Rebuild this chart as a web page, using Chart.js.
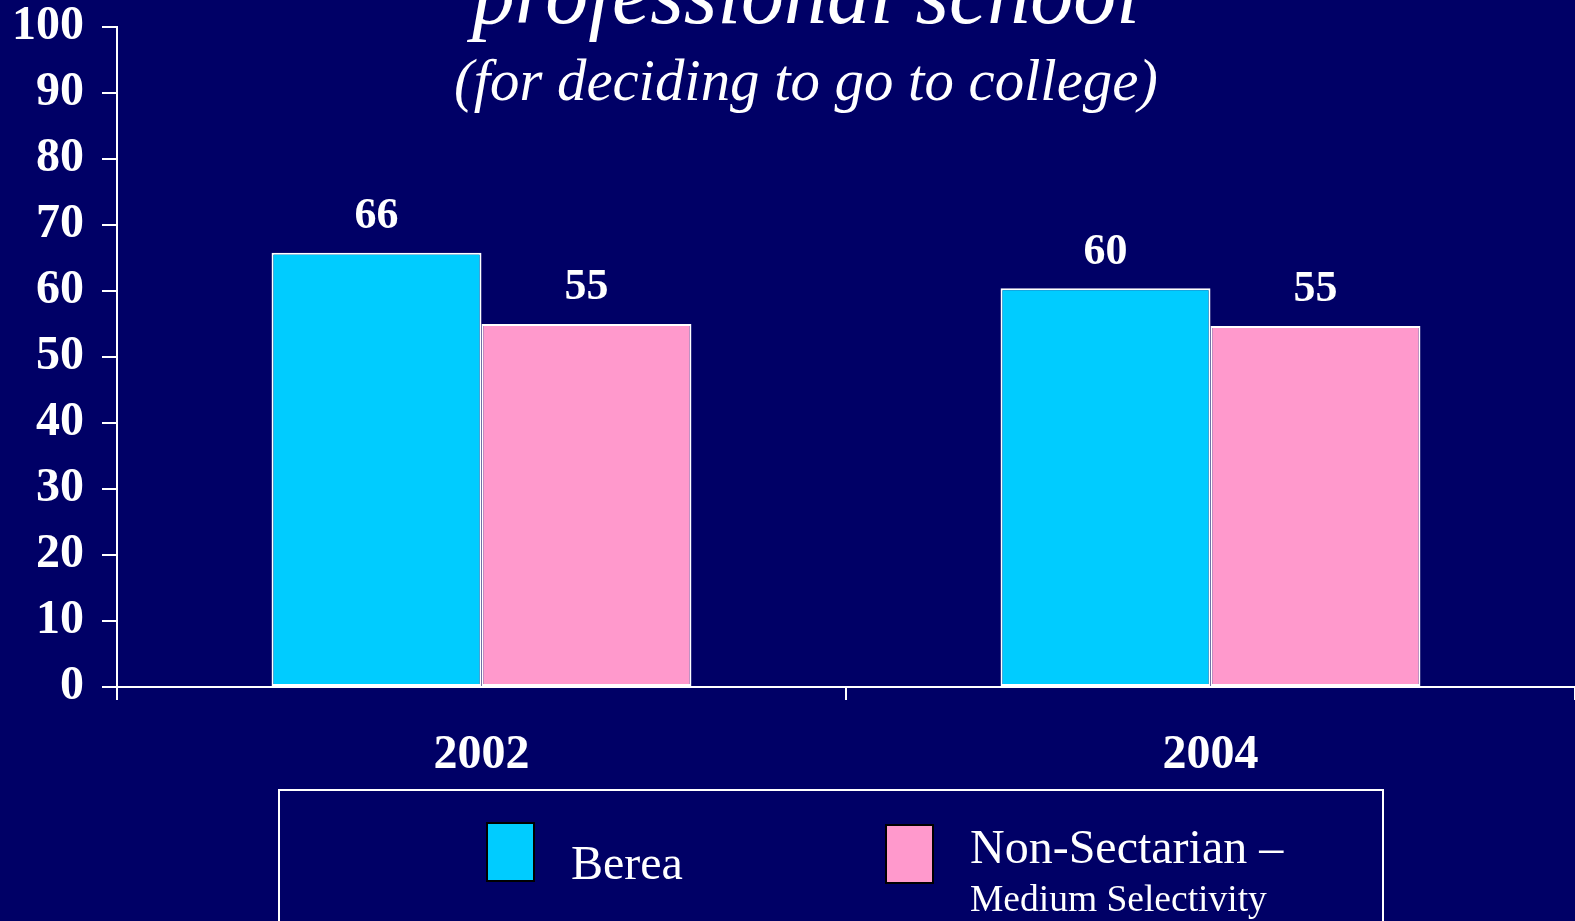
<!DOCTYPE html>
<html>
<head>
<meta charset="utf-8">
<script src="https://cdn.jsdelivr.net/npm/chart.js@4.4.1/dist/chart.umd.min.js"></script>
<style>
  html, body { margin: 0; padding: 0; background: #000066; overflow: hidden; }
  #wrap { position: relative; width: 1575px; height: 921px; }
</style>
</head>
<body>
<div id="wrap"><canvas id="c"></canvas></div>
<script>
// ---- data ----
const categories = ['2002', '2004'];
const bereaValues = [65.8, 60.4];
const nonSectarianValues = [55, 54.7];
const seriesNames = ['Berea', 'Non-Sectarian – Medium Selectivity'];
const legendLines = [['Berea'], ['Non-Sectarian –', 'Medium Selectivity']];
const yTickValues = [0, 10, 20, 30, 40, 50, 60, 70, 80, 90, 100];
const titleLines = ['professional school', '(for deciding to go to college)'];

const BG = '#000066';
const CYAN = '#00CCFF';
const PINK = '#FF99CC';
const SERIF = '"Liberation Serif", "Times New Roman", serif';

const titlePlugin = {
  id: 'slideTitle',
  afterDraw(chart) {
    const ctx = chart.ctx;
    ctx.save();
    ctx.fillStyle = '#ffffff';
    ctx.textAlign = 'center';
    ctx.textBaseline = 'alphabetic';
    ctx.font = 'italic 86px ' + SERIF;
    ctx.fillText(titleLines[0], 806, 23);
    ctx.font = 'italic 58.8px ' + SERIF;
    ctx.fillText(titleLines[1], 806, 100);
    ctx.restore();
  }
};

const valueLabelPlugin = {
  id: 'valueLabels',
  afterDatasetsDraw(chart) {
    const ctx = chart.ctx;
    ctx.save();
    ctx.fillStyle = '#ffffff';
    ctx.font = 'bold 44px ' + SERIF;
    ctx.textAlign = 'center';
    ctx.textBaseline = 'middle';
    chart.data.datasets.forEach((ds, i) => {
      const meta = chart.getDatasetMeta(i);
      meta.data.forEach((el, j) => {
        ctx.fillText(String(Math.round(ds.data[j])), el.x, el.y - 36);
      });
    });
    ctx.restore();
  }
};

const legendPlugin = {
  id: 'boxLegend',
  afterDraw(chart) {
    const ctx = chart.ctx;
    ctx.save();
    ctx.strokeStyle = '#ffffff';
    ctx.lineWidth = 2;
    ctx.strokeRect(279, 790, 1104, 200);
    const ds = chart.data.datasets;
    const sw = [[487, 823], [886, 825]];
    ds.forEach((d, i) => {
      ctx.fillStyle = d.backgroundColor;
      ctx.fillRect(sw[i][0], sw[i][1], 47, 58);
      ctx.strokeStyle = '#000000';
      ctx.lineWidth = 2;
      ctx.strokeRect(sw[i][0], sw[i][1], 47, 58);
    });
    ctx.fillStyle = '#ffffff';
    ctx.textAlign = 'left';
    ctx.textBaseline = 'alphabetic';
    ctx.font = '48px ' + SERIF;
    ctx.fillText(legendLines[0][0], 571, 879);
    ctx.fillText(legendLines[1][0], 970, 863);
    ctx.font = '37.5px ' + SERIF;
    ctx.fillText(legendLines[1][1], 970, 911);
    ctx.restore();
  }
};

new Chart(document.getElementById('c'), {
  type: 'bar',
  data: {
    labels: categories,
    datasets: [
      { label: seriesNames[0], data: bereaValues, backgroundColor: CYAN, borderColor: '#ffffff', borderWidth: 2, borderSkipped: false },
      { label: seriesNames[1], data: nonSectarianValues, backgroundColor: PINK, borderColor: '#ffffff', borderWidth: 2, borderSkipped: false }
    ]
  },
  options: {
    responsive: true,
    maintainAspectRatio: false,
    animation: false,
    layout: { padding: { top: 27, left: 0, right: 0, bottom: 0 } },
    datasets: { bar: { categoryPercentage: 0.576, barPercentage: 1.0 } },
    plugins: { legend: { display: false }, title: { display: false }, tooltip: { enabled: false } },
    scales: {
      x: {
        afterFit(scale) { scale.height = 234; scale.paddingLeft = 0; scale.paddingRight = 0; },
        grid: { offset: true, drawOnChartArea: false, drawTicks: true, tickLength: 13, color: '#ffffff', lineWidth: 2 },
        border: { color: '#ffffff', width: 2 },
        ticks: { color: '#ffffff', padding: 27, font: { family: SERIF, size: 48, weight: 'bold', lineHeight: 1.2 } }
      },
      y: {
        min: 0, max: 100,
        afterFit(scale) { scale.width = 117; scale.paddingTop = 0; scale.paddingBottom = 0; },
        afterBuildTicks(scale) { scale.ticks = yTickValues.map(v => ({ value: v })); },
        grid: { drawOnChartArea: false, drawTicks: true, tickLength: 15, color: '#ffffff', lineWidth: 2 },
        border: { color: '#ffffff', width: 2 },
        ticks: { color: '#ffffff', padding: 18, font: { family: SERIF, size: 48, weight: 'bold', lineHeight: 1.0 } }
      }
    }
  },
  plugins: [titlePlugin, valueLabelPlugin, legendPlugin]
});
</script>
</body>
</html>
